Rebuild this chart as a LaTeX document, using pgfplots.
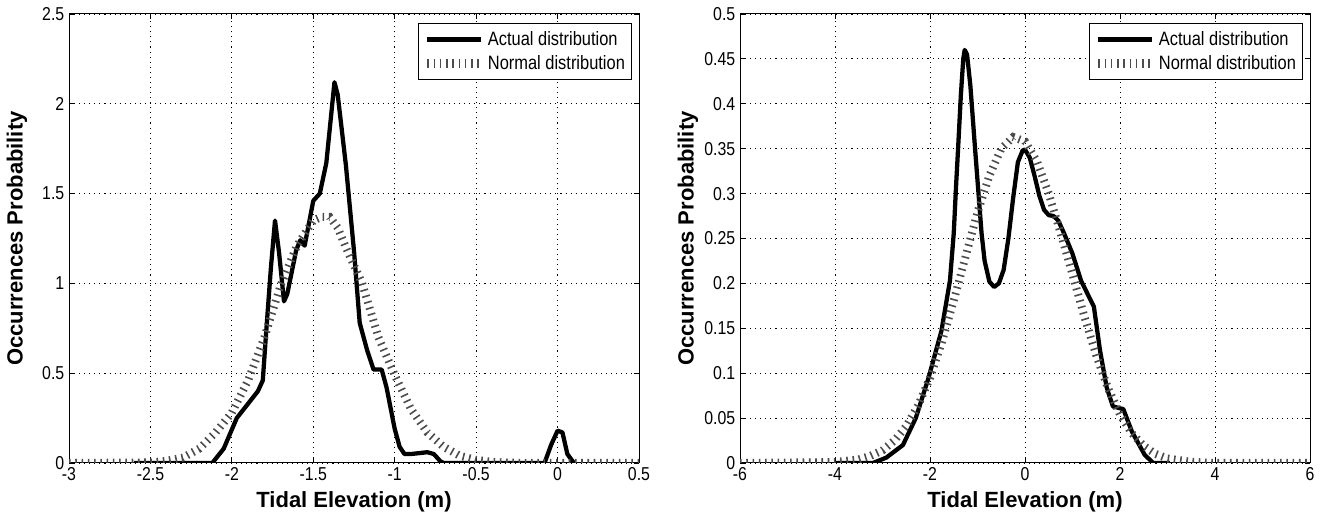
\documentclass[border=0pt]{standalone}
\usepackage{pgfplots}
\pgfplotsset{compat=1.18}
\usepackage{fontspec}
\setmainfont{Liberation Sans}
\newfontfamily\narrow[FakeStretch=0.85]{Liberation Sans}
\pgfplotsset{
  mystyle/.style={
    scale only axis, width=427.5pt, height=336.75pt,
    anchor=south west,
    axis line style={line width=0.75pt},
    tick align=inside, major tick length=4pt,
    tick style={line width=0.6pt, black},
    grid=major,
    major grid style={line width=0.7pt, black, dash pattern=on 0.8pt off 3pt},
    ticklabel style={font=\narrow\fontsize{14}{16}\selectfont},
    /pgf/number format/assume math mode=true,
    xlabel={Tidal Elevation (m)},
    ylabel={Occurrences Probability},
    every axis x label/.style={at={([yshift=-29pt]axis description cs:0.5,0)}, anchor=center, font=\bfseries\fontsize{16.5}{19}\selectfont},
    every axis y label/.style={at={([xshift=-39pt]axis description cs:0,0.5)}, rotate=90, anchor=center, font=\bfseries\fontsize{16.5}{19}\selectfont},
    legend style={at={([xshift=-5.25pt,yshift=-6.75pt]rel axis cs:1,1)}, anchor=north east,
      draw=black, line width=0.6pt, font=\narrow\fontsize{14.5}{17}\selectfont,
      inner xsep=3pt, inner ysep=4pt, row sep=2pt, cells={anchor=west}},
    legend cell align=left,
  },
  actual/.style={black, line width=3.2pt, line join=round,
    legend image code/.code={\draw[black,line width=3.2pt] (0pt,0pt) -- (40pt,0pt);}},
  normal/.style={black!70, line width=6pt, dash pattern=on 1.2pt off 3.5pt,
    legend image code/.code={\draw[black!70,line width=7pt,dash pattern=on 1.2pt off 3.5pt] (0pt,0pt) -- (40pt,0pt);}},
}
\begin{document}
\begin{tikzpicture}
\useasboundingbox (0,0) rectangle (994.5pt,387pt);
\begin{axis}[mystyle, at={(51.75pt,39.75pt)},
  xmin=-3, xmax=0.5, ymin=0, ymax=2.5,
  xtick={-3,-2.5,-2,-1.5,-1,-0.5,0,0.5},
  xticklabels={-3,-2.5,-2,-1.5,-1,-0.5,0,0.5},
  ytick={0,0.5,1,1.5,2,2.5},
  yticklabels={0,0.5,1,1.5,2,2.5}]
\addplot[actual] coordinates {
(-2.6,0) (-2.12,0) (-2.05,0.08) (-1.97,0.25) (-1.84,0.40) (-1.81,0.46) (-1.79,0.72)
(-1.76,1.09) (-1.735,1.35) (-1.71,1.17) (-1.68,0.90) (-1.66,0.94) (-1.605,1.185)
(-1.58,1.24) (-1.553,1.21) (-1.50,1.46) (-1.46,1.50) (-1.42,1.67) (-1.37,2.12)
(-1.35,2.05) (-1.30,1.66) (-1.25,1.18) (-1.215,0.78) (-1.17,0.63) (-1.13,0.52)
(-1.08,0.52) (-1.05,0.42) (-1.0,0.19) (-0.97,0.09) (-0.94,0.05) (-0.9,0.05)
(-0.8,0.06) (-0.76,0.05) (-0.72,0.01) (-0.7,0) (-0.08,0) (-0.04,0.1) (0.0,0.18)
(0.03,0.17) (0.06,0.05) (0.1,0)};
\addlegendentry{Actual distribution}
\addplot[normal] coordinates {
(-3.0,0) (-2.5,0.003) (-2.4,0.012) (-2.3,0.03) (-2.2,0.08) (-2.1,0.17) (-2.0,0.28)
(-1.9,0.46) (-1.8,0.70) (-1.7,0.99) (-1.6,1.21) (-1.5,1.35) (-1.45,1.37) (-1.4,1.37)
(-1.35,1.31) (-1.3,1.20) (-1.2,1.00) (-1.1,0.70) (-1.0,0.49) (-0.9,0.30) (-0.8,0.17)
(-0.7,0.09) (-0.6,0.04) (-0.5,0.017) (-0.4,0.006) (-0.3,0.002) (-0.2,0) (0.5,0)};
\addlegendentry{Normal distribution}
\end{axis}
\begin{axis}[mystyle, at={(555pt,39.75pt)},
  xmin=-6, xmax=6, ymin=0, ymax=0.5,
  xtick={-6,-4,-2,0,2,4,6},
  xticklabels={-6,-4,-2,0,2,4,6},
  ytick={0,0.05,0.1,0.15,0.2,0.25,0.3,0.35,0.4,0.45,0.5},
  yticklabels={0,0.05,0.1,0.15,0.2,0.25,0.3,0.35,0.4,0.45,0.5}]
\addplot[actual] coordinates {
(-4.0,0) (-3.2,0) (-2.92,0.006) (-2.57,0.02) (-2.30,0.05) (-2.03,0.095) (-1.76,0.147)
(-1.58,0.203) (-1.50,0.256) (-1.45,0.31) (-1.41,0.349) (-1.35,0.41) (-1.30,0.45)
(-1.27,0.46) (-1.22,0.455) (-1.15,0.42) (-1.05,0.349) (-0.915,0.256) (-0.85,0.225)
(-0.75,0.202) (-0.65,0.196) (-0.55,0.20) (-0.45,0.215) (-0.35,0.25) (-0.25,0.295)
(-0.15,0.335) (-0.05,0.348) (0.0,0.349) (0.1,0.34) (0.2,0.32) (0.3,0.298) (0.4,0.282)
(0.5,0.276) (0.6,0.275) (0.7,0.27) (0.82,0.256) (1.0,0.233) (1.18,0.203) (1.45,0.174)
(1.58,0.125) (1.72,0.084) (1.85,0.063) (2.07,0.06) (2.25,0.035) (2.52,0.009) (2.70,0)
(3.05,0)};
\addlegendentry{Actual distribution}
\addplot[normal] coordinates {
(-6,0) (-4.0,0.001) (-3.5,0.004) (-3.25,0.008) (-3.0,0.014) (-2.75,0.025) (-2.5,0.041)
(-2.25,0.064) (-2.0,0.095) (-1.75,0.135) (-1.5,0.181) (-1.25,0.230) (-1.0,0.279)
(-0.75,0.320) (-0.5,0.350) (-0.25,0.363) (0,0.358) (0.25,0.336) (0.5,0.300)
(0.75,0.256) (1.0,0.210) (1.25,0.163) (1.5,0.120) (1.75,0.083) (2.0,0.054)
(2.25,0.033) (2.5,0.019) (2.75,0.010) (3.0,0.005) (3.5,0.0013) (4.0,0) (6,0)};
\addlegendentry{Normal distribution}
\end{axis}
\end{tikzpicture}
\end{document}
